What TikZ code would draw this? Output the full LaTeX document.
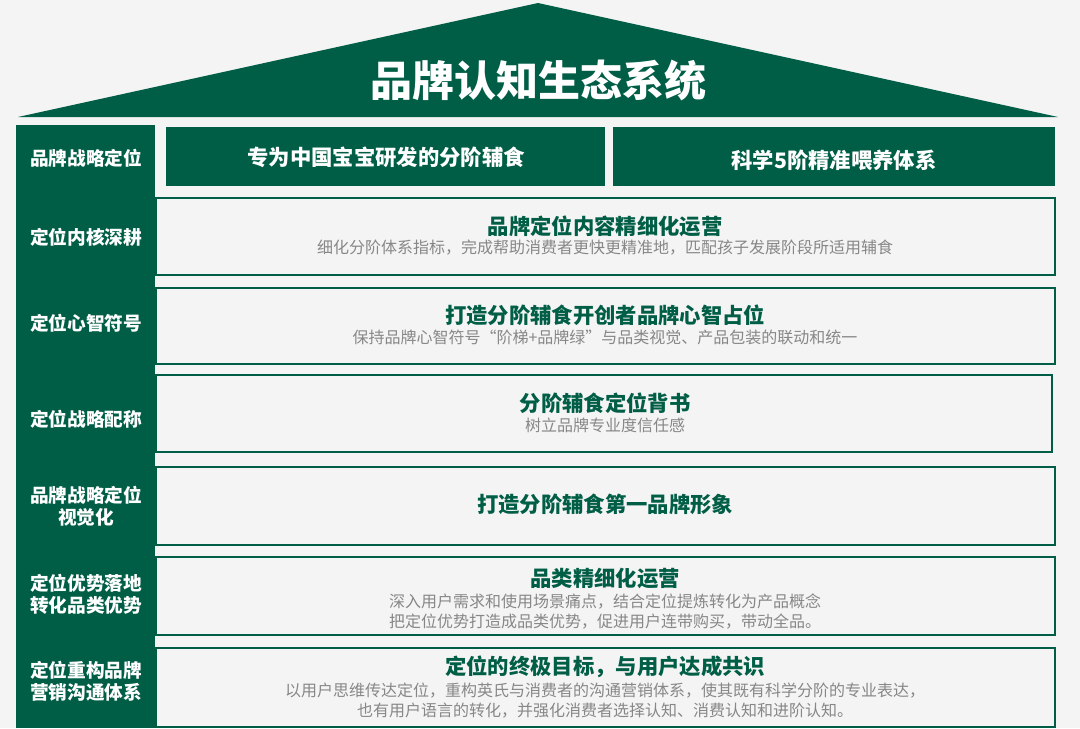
\documentclass[tikz,border=0pt]{standalone}
\usepackage{fontspec}
\setmainfont{Noto Sans CJK SC}
\usetikzlibrary{positioning}

\definecolor{dkgreen}{RGB}{1,94,70}
\definecolor{subgray}{RGB}{135,135,135}
\definecolor{bggray}{RGB}{244,244,244}

\tikzset{
  box/.style 2 args={rectangle, minimum width=#1*0.75pt, minimum height=#2*0.75pt, inner sep=0pt},
  rowbox/.style={draw=dkgreen, line width=1.9pt, fill=bggray},
  topbox/.style={fill=dkgreen},
  sidebar/.style={fill=dkgreen},
  sidelabel/.style={text=white, font=\fontsize{14}{16.5}\selectfont\bfseries, align=center, inner sep=0pt},
  toptext/.style={text=white, font=\fontsize{16}{19}\selectfont\bfseries, inner sep=0pt},
  headtext/.style={text=dkgreen, font=\fontsize{16}{19}\selectfont\bfseries, inner sep=0pt},
  subtext/.style={text=subgray, font=\fontsize{12}{15}\selectfont, align=center, inner sep=0pt}
}

\begin{document}
\begin{tikzpicture}[x=0.75pt, y=-0.75pt]
  \fill[bggray] (0,0) rectangle (1080,728);
  \useasboundingbox (0,0) rectangle (1080,728);

  % roof
  \coordinate (roofL) at (18,117);
  \coordinate (roofT) at (538,3);
  \coordinate (roofR) at (1058,117);
  \fill[dkgreen] (roofL) -- (roofT) -- (roofR) -- cycle;
  \node[text=white, font=\fontsize{31.5}{36}\selectfont\bfseries, inner sep=0pt] (title) at (538,80) {品牌认知生态系统};

  % top row
  \node[box={439}{59}, topbox] (r1a) at (385.5,156.5) {};
  \node[box={442}{59}, topbox] (r1b) at (834,156.5) {};
  \node[toptext] (r1at) at (386,157) {专为中国宝宝研发的分阶辅食};
  \node[toptext] (r1bt) at (834,160) {科学5阶精准喂养体系};

  % rows
  \node[box={899}{77}, rowbox] (r2) at (605.5,236.5) {};
  \node[box={899}{76}, rowbox] (r3) at (605.5,326) {};
  \node[box={896}{77}, rowbox] (r4) at (604,413.5) {};
  \node[box={899}{78}, rowbox] (r5) at (605.5,506) {};
  \node[box={899}{78}, rowbox] (r6) at (605.5,596) {};
  \node[box={899}{79}, rowbox] (r7) at (605.5,687.5) {};

  \node[headtext] (r2t) at (605,226) {品牌定位内容精细化运营};
  \node[subtext] (r2s) at (605,248) {细化分阶体系指标，完成帮助消费者更快更精准地，匹配孩子发展阶段所适用辅食};
  \node[headtext] (r3t) at (605,315) {打造分阶辅食开创者品牌心智占位};
  \node[subtext] (r3s) at (605,337) {保持品牌心智符号“阶梯+品牌绿”与品类视觉、产品包装的联动和统一};
  \node[headtext] (r4t) at (605,403) {分阶辅食定位背书};
  \node[subtext] (r4s) at (605,425) {树立品牌专业度信任感};
  \node[headtext] (r5t) at (605,504) {打造分阶辅食第一品牌形象};
  \node[headtext] (r6t) at (605,578) {品类精细化运营};
  \node[subtext] (r6s) at (605,611) {深入用户需求和使用场景痛点，结合定位提炼转化为产品概念\\把定位优势打造成品类优势，促进用户连带购买，带动全品。};
  \node[headtext] (r7t) at (605,667) {定位的终极目标，与用户达成共识};
  \node[subtext] (r7s) at (605,700.5) {以用户思维传达定位，重构英氏与消费者的沟通营销体系，使其既有科学分阶的专业表达，\\也有用户语言的转化，并强化消费者选择认知、消费认知和进阶认知。};

  % left column
  \node[box={139}{603}, sidebar] (side) at (85.5,426.5) {};
  \node[sidelabel] (s1) at (86,158) {品牌战略定位};
  \node[sidelabel] (s2) at (86,237) {定位内核深耕};
  \node[sidelabel] (s3) at (86,323) {定位心智符号};
  \node[sidelabel] (s4) at (86,419) {定位战略配称};
  \node[sidelabel] (s5) at (86,506) {品牌战略定位\\视觉化};
  \node[sidelabel] (s6) at (86,594.5) {定位优势落地\\转化品类优势};
  \node[sidelabel] (s7) at (86,681.5) {定位重构品牌\\营销沟通体系};
\end{tikzpicture}
\end{document}
